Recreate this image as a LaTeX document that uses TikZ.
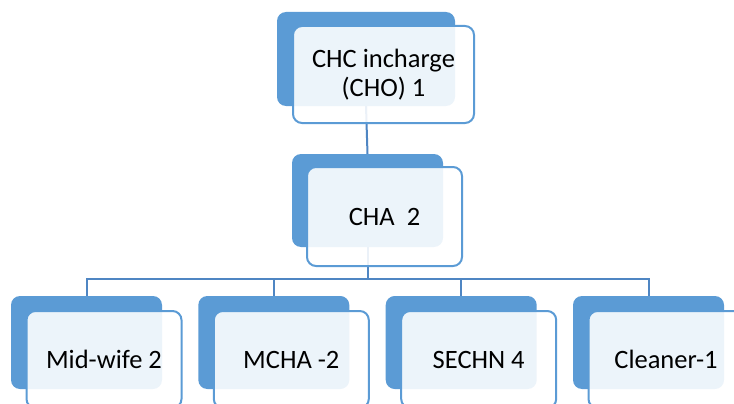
\documentclass[tikz,border=0pt]{standalone}
\usepackage{fontspec}
\setmainfont{Carlito}
\usetikzlibrary{backgrounds}
\definecolor{darkbox}{HTML}{5B9BD5}
\definecolor{linkblue}{HTML}{4F86C3}
\begin{document}
\begin{tikzpicture}[x=1pt,y=-1pt,
  back/.style={fill=darkbox, rounded corners=9pt, inner sep=0pt, outer sep=0pt, minimum width=151pt, minimum height=93pt},
  front/.style={draw=darkbox, line width=2pt, fill=white, fill opacity=0.89, text opacity=1, rounded corners=9pt, inner sep=0pt, outer sep=0pt, minimum width=155pt, minimum height=97pt, align=center, font=\fontsize{26.5}{29.5}\selectfont},
  link/.style={draw=linkblue, line width=2pt}]
\useasboundingbox (0,0) rectangle (734,404);
\clip (0,0) rectangle (734,404);
% top
\node[back, minimum width=178pt, minimum height=94pt] (t1d) at (366,59) {};
\node[front, minimum width=181pt, minimum height=97pt] (t1) at (383.5,74.5) {CHC incharge\\(CHO) 1};
% second
\node[back] (t2d) at (367.5,200.5) {};
\node[front, minimum height=99pt] (t2) at (384.5,216.5) {CHA~~2};
% bottom row
\node[back] (c1d) at (86.5,342.5) {};
\node[front] (c1) at (104,359.5) {Mid-wife 2};
\node[back] (c2d) at (273.8,342.5) {};
\node[front] (c2) at (291.3,359.5) {MCHA -2};
\node[back] (c3d) at (461.2,342.5) {};
\node[front] (c3) at (478.7,359.5) {SECHN 4};
\node[back] (c4d) at (648.5,342.5) {};
\node[front] (c4) at (666,359.5) {Cleaner-1};
\coordinate (bus) at (367.5,279);
\begin{scope}[on background layer]
\draw[link] (t1d.south) -- (t2d.north);
\draw[link] (t2d.south) -- (bus);
\draw[link] (c1d.north) -- (c1d.north |- bus) -- (c4d.north |- bus) -- (c4d.north);
\draw[link] (c2d.north) -- (c2d.north |- bus);
\draw[link] (c3d.north) -- (c3d.north |- bus);
\end{scope}
\end{tikzpicture}
\end{document}
